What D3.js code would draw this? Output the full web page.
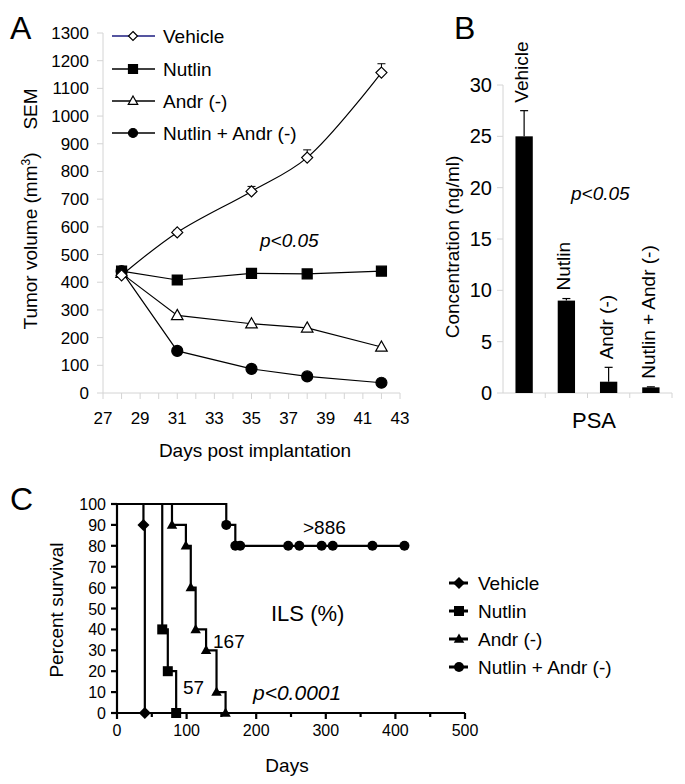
<!DOCTYPE html>
<html><head><meta charset="utf-8">
<script src="https://cdn.jsdelivr.net/npm/d3@7"></script>
<style>
html,body{margin:0;padding:0;background:#fff;}
svg{display:block;font-family:Arial,"Liberation Sans",sans-serif;}
</style></head>
<body>
<svg id="chart" width="685" height="784"></svg>
<script>
// ---------- Panel A data ----------
const daysA = [28, 31, 35, 38, 42];
const vehicleA = [425, 580, 728, 850, 1157];
const vehicleErrA = [0, 8, 18, 28, 32];
const nutlinA = [440, 408, 432, 430, 440];
const andrA = [432, 280, 250, 235, 166];
const comboA = [440, 152, 87, 60, 37];
const seriesNamesA = ["Vehicle", "Nutlin", "Andr (-)", "Nutlin + Andr (-)"];
const yTicksA = [0,100,200,300,400,500,600,700,800,900,1000,1100,1200,1300];
const xTicksA = [27,29,31,33,35,37,39,41,43];

// ---------- Panel B data ----------
const psaGroups = ["Vehicle", "Nutlin", "Andr (-)", "Nutlin  + Andr (-)"];
const psaValues = [25, 9, 1.1, 0.55];
const psaErr = [2.5, 0.2, 1.4, 0.05];
const yTicksB = [0, 5, 10, 15, 20, 25, 30];

// ---------- Panel C data (survival events: day, percent) ----------
const survVehicle = [[0,100],[38,90],[40,0]];
const survNutlin = [[0,100],[65,40],[73,20],[85,0]];
const survAndr = [[0,100],[79,90],[99,80],[106,60],[113,40],[128,30],[143,10],[156,0]];
const survCombo = [[0,100],[157,90],[170,80],[177,80],[246,80],[262,80],[294,80],[310,80],[367,80],[413,80]];
const seriesNamesC = ["Vehicle", "Nutlin", "Andr (-)", "Nutlin + Andr (-)"];
const yTicksC = [0,10,20,30,40,50,60,70,80,90,100];
const xTicksC = [0,100,200,300,400,500];
const xMinorTicksC = [50,150,250,350,450];

const svg = d3.select("#chart");
const grey = "#d4d4d4";

// marker path helpers
function markerPath(kind, r) {
  if (kind === "diamond") return `M0,${-r}L${r},0L0,${r}L${-r},0Z`;
  if (kind === "square") return `M${-r},${-r}H${r}V${r}H${-r}Z`;
  if (kind === "triangle") return `M0,${-r*1.1}L${r*1.05},${r*0.75}L${-r*1.05},${r*0.75}Z`;
  return d3.symbol(d3.symbolCircle, Math.PI*r*r)();
}

// ================= Panel A =================
const xA = d3.scaleLinear().domain([27,43]).range([103,400]);
const yA = d3.scaleLinear().domain([0,1300]).range([393,33]);
const gA = svg.append("g");

gA.append("text").attr("x",10).attr("y",39).attr("font-size",32).text("A");

// axes
gA.append("line").attr("x1",xA(27)).attr("x2",xA(27)).attr("y1",yA(1300)).attr("y2",yA(0)).attr("stroke",grey);
gA.append("line").attr("x1",xA(27)).attr("x2",xA(43)).attr("y1",yA(0)).attr("y2",yA(0)).attr("stroke",grey);
yTicksA.forEach(t=>{
  gA.append("line").attr("x1",xA(27)-6).attr("x2",xA(27)).attr("y1",yA(t)).attr("y2",yA(t)).attr("stroke",grey);
  gA.append("text").attr("x",89).attr("y",yA(t)+6).attr("text-anchor","end").attr("font-size",17).text(t);
});
d3.range(27,44).forEach(t=>{
  gA.append("line").attr("x1",xA(t)).attr("x2",xA(t)).attr("y1",yA(0)).attr("y2",yA(0)+6).attr("stroke",grey);
});
xTicksA.forEach(t=>{
  gA.append("text").attr("x",xA(t)).attr("y",424).attr("text-anchor","middle").attr("font-size",17).text(t);
});
gA.append("text").attr("x",255).attr("y",457).attr("text-anchor","middle").attr("font-size",19).text("Days post implantation");
const yl = gA.append("text").attr("transform","translate(37,241) rotate(-90)").attr("text-anchor","middle").attr("font-size",19);
yl.append("tspan").text("Tumor volume (mm");
yl.append("tspan").attr("dy",-7).attr("font-size",12).text("3");
yl.append("tspan").attr("dy",7).text(")");
gA.append("text").attr("transform","translate(37,109) rotate(-90)").attr("text-anchor","middle").attr("font-size",19).text("SEM");

const seriesA = [
  {vals: vehicleA, kind:"diamond", fill:"#fff", curve:d3.curveCatmullRom.alpha(0.5)},
  {vals: nutlinA, kind:"square", fill:"#000", curve:d3.curveLinear},
  {vals: andrA, kind:"triangle", fill:"#fff", curve:d3.curveLinear},
  {vals: comboA, kind:"circle", fill:"#000", curve:d3.curveLinear}
];
// vehicle error bars
daysA.forEach((d,i)=>{
  if (vehicleErrA[i] > 0) {
    const x = xA(d), y0 = yA(vehicleA[i]), y1 = yA(vehicleA[i]+vehicleErrA[i]);
    gA.append("line").attr("x1",x).attr("x2",x).attr("y1",y0).attr("y2",y1).attr("stroke","#000");
    gA.append("line").attr("x1",x-4).attr("x2",x+4).attr("y1",y1).attr("y2",y1).attr("stroke","#000");
  }
});
seriesA.forEach(s=>{
  const line = d3.line().x((d,i)=>xA(daysA[i])).y(d=>yA(d)).curve(s.curve);
  gA.append("path").attr("d",line(s.vals)).attr("fill","none").attr("stroke","#000").attr("stroke-width",1.2);
});
seriesA.slice().reverse().forEach(s=>{
  s.vals.forEach((v,i)=>{
    gA.append("path").attr("d",markerPath(s.kind, s.kind==="square"?5:(s.kind==="circle"?5.5:5.5)))
      .attr("transform",`translate(${xA(daysA[i])},${yA(v)})`)
      .attr("fill",s.fill).attr("stroke","#000").attr("stroke-width",1.2);
  });
});
// legend A
const legYA = [36,69,101,133];
seriesA.forEach((s,i)=>{
  gA.append("line").attr("x1",112).attr("x2",155).attr("y1",legYA[i]).attr("y2",legYA[i])
    .attr("stroke", i===0 ? "#1c1c80" : "#000").attr("stroke-width",1.3);
  gA.append("path").attr("d",markerPath(s.kind, s.kind==="square"?4.5:4.5))
    .attr("transform",`translate(133,${legYA[i]})`).attr("fill",s.fill).attr("stroke","#000").attr("stroke-width",1.2);
  gA.append("text").attr("x",163).attr("y",legYA[i]+7).attr("font-size",19).text(seriesNamesA[i]);
});
gA.append("text").attr("x",260).attr("y",247).attr("font-size",19).attr("font-style","italic").text("p<0.05");

// ================= Panel B =================
const xB = d3.scaleBand().domain(psaGroups).range([503,672]);
const yB = d3.scaleLinear().domain([0,30]).range([393,85]);
const gB = svg.append("g");
gB.append("text").attr("x",454).attr("y",39).attr("font-size",32).text("B");
gB.append("line").attr("x1",503).attr("x2",503).attr("y1",yB(30)).attr("y2",yB(0)).attr("stroke",grey);
gB.append("line").attr("x1",503).attr("x2",672).attr("y1",yB(0)).attr("y2",yB(0)).attr("stroke",grey);
yTicksB.forEach(t=>{
  gB.append("line").attr("x1",497).attr("x2",503).attr("y1",yB(t)).attr("y2",yB(t)).attr("stroke",grey);
  gB.append("text").attr("x",492).attr("y",yB(t)+7).attr("text-anchor","end").attr("font-size",20).text(t);
});
psaGroups.forEach(g=>{
  const xe = xB(g)+xB.bandwidth();
  gB.append("line").attr("x1",xe).attr("x2",xe).attr("y1",yB(0)).attr("y2",yB(0)+5).attr("stroke",grey);
});
const bw = xB.bandwidth()*0.41;
psaGroups.forEach((g,i)=>{
  const cx = xB(g)+xB.bandwidth()/2;
  gB.append("rect").attr("x",cx-bw/2).attr("width",bw).attr("y",yB(psaValues[i])).attr("height",yB(0)-yB(psaValues[i])).attr("fill","#000");
  const top = yB(psaValues[i]+psaErr[i]);
  gB.append("line").attr("x1",cx).attr("x2",cx).attr("y1",yB(psaValues[i])).attr("y2",top).attr("stroke","#000").attr("stroke-width",1.2);
  gB.append("line").attr("x1",cx-4).attr("x2",cx+4).attr("y1",top).attr("y2",top).attr("stroke","#000").attr("stroke-width",1.2);
  const ly = Math.min(top, yB(psaValues[i])) - 8;
  gB.append("text").attr("transform",`translate(${cx+4},${ly}) rotate(-90)`).attr("font-size",19).text(g);
});
gB.append("text").attr("transform","translate(459,247) rotate(-90)").attr("text-anchor","middle").attr("font-size",19).text("Concentration (ng/ml)");
gB.append("text").attr("x",594).attr("y",428).attr("text-anchor","middle").attr("font-size",22).text("PSA");
gB.append("text").attr("x",571).attr("y",200).attr("font-size",19).attr("font-style","italic").text("p<0.05");

// ================= Panel C =================
const xC = d3.scaleLinear().domain([0,500]).range([117,465]);
const yC = d3.scaleLinear().domain([0,100]).range([713,504]);
const gC = svg.append("g");
gC.append("text").attr("x",10).attr("y",510).attr("font-size",32).text("C");
const axW = 2.2;
gC.append("line").attr("x1",xC(0)).attr("x2",xC(0)).attr("y1",yC(100)).attr("y2",yC(0)).attr("stroke","#000").attr("stroke-width",axW);
gC.append("line").attr("x1",xC(0)-1).attr("x2",xC(500)).attr("y1",yC(0)).attr("y2",yC(0)).attr("stroke","#000").attr("stroke-width",axW);
yTicksC.forEach(t=>{
  gC.append("line").attr("x1",xC(0)-6).attr("x2",xC(0)).attr("y1",yC(t)).attr("y2",yC(t)).attr("stroke","#000").attr("stroke-width",axW);
  gC.append("text").attr("x",106).attr("y",yC(t)+6).attr("text-anchor","end").attr("font-size",16).text(t);
});
xTicksC.forEach(t=>{
  gC.append("line").attr("x1",xC(t)).attr("x2",xC(t)).attr("y1",yC(0)).attr("y2",yC(0)+6).attr("stroke","#000").attr("stroke-width",axW);
  gC.append("text").attr("x",xC(t)).attr("y",736).attr("text-anchor","middle").attr("font-size",16).text(t);
});
xMinorTicksC.forEach(t=>{
  gC.append("line").attr("x1",xC(t)).attr("x2",xC(t)).attr("y1",yC(0)).attr("y2",yC(0)+4).attr("stroke","#000").attr("stroke-width",axW);
});
gC.append("text").attr("transform","translate(63,610) rotate(-90)").attr("text-anchor","middle").attr("font-size",19).text("Percent survival");
gC.append("text").attr("x",287).attr("y",772).attr("text-anchor","middle").attr("font-size",19).text("Days");

const seriesC = [
  {vals: survVehicle, kind:"diamond"},
  {vals: survNutlin, kind:"square"},
  {vals: survAndr, kind:"triangle"},
  {vals: survCombo, kind:"circle"}
];
const stepLine = d3.line().x(d=>xC(d[0])).y(d=>yC(d[1])).curve(d3.curveStepAfter);
seriesC.forEach(s=>{
  gC.append("path").attr("d",stepLine(s.vals)).attr("fill","none").attr("stroke","#000").attr("stroke-width",2.2);
});
seriesC.forEach(s=>{
  s.vals.slice(1).forEach(d=>{
    gC.append("path").attr("d",markerPath(s.kind, s.kind==="diamond"?6:5))
      .attr("transform",`translate(${xC(d[0])},${yC(d[1])})`).attr("fill","#000");
  });
});
gC.append("text").attr("x",303).attr("y",534).attr("font-size",19).text(">886");
gC.append("text").attr("x",271).attr("y",621).attr("font-size",22).text("ILS (%)");
gC.append("text").attr("x",213).attr("y",648).attr("font-size",19).text("167");
gC.append("text").attr("x",183).attr("y",694).attr("font-size",19).text("57");
gC.append("text").attr("x",253).attr("y",700).attr("font-size",21).attr("font-style","italic").text("p<0.0001");

// legend C
const legYC = [583,611,639,667];
seriesC.forEach((s,i)=>{
  gC.append("line").attr("x1",449).attr("x2",468).attr("y1",legYC[i]).attr("y2",legYC[i]).attr("stroke","#000").attr("stroke-width",3);
  gC.append("path").attr("d",markerPath(s.kind, s.kind==="diamond"?6:5))
    .attr("transform",`translate(459,${legYC[i]})`).attr("fill","#000");
  gC.append("text").attr("x",478).attr("y",legYC[i]+7).attr("font-size",19).text(seriesNamesC[i]);
});
</script>
</body></html>
